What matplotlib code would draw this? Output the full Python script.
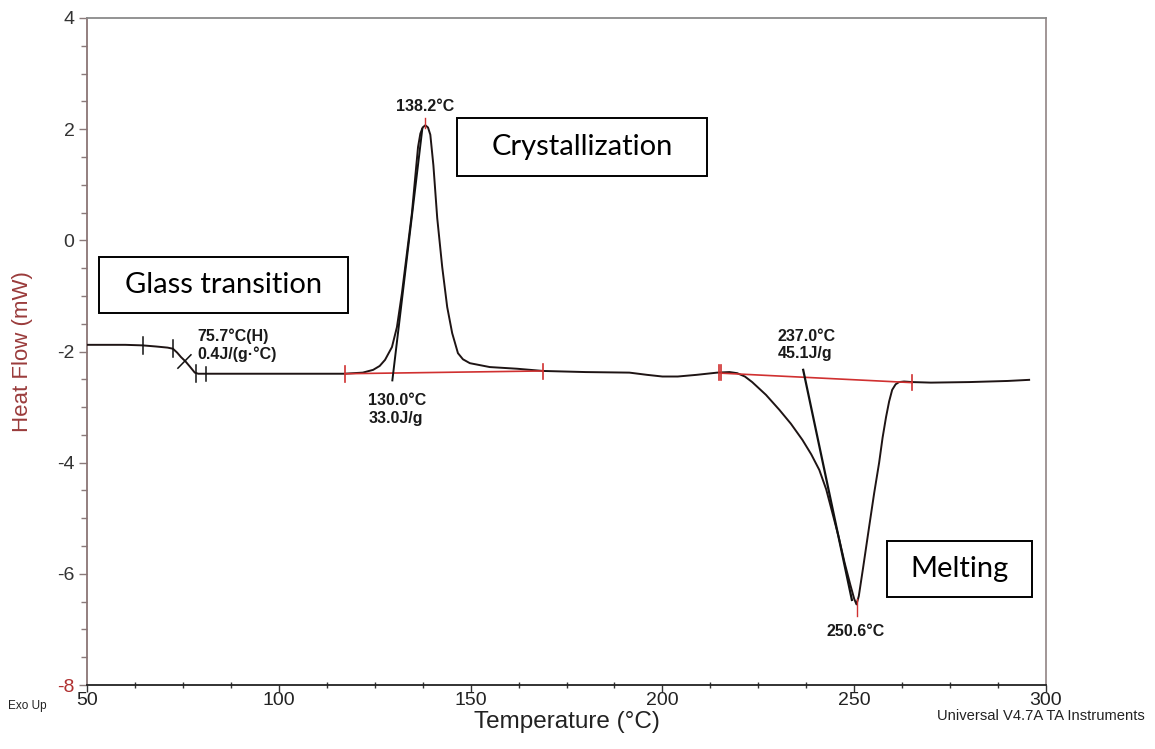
import matplotlib
matplotlib.use("Agg")
import matplotlib.pyplot as plt
from matplotlib.patches import Rectangle
from matplotlib.ticker import MultipleLocator

plt.rcParams['axes.unicode_minus'] = False

# ---------------- data ----------------
temp = [50, 55, 60, 64.5, 68, 71, 72.4, 73.5, 74.5, 75.7, 76.8, 78.1, 79, 81, 90, 100, 110, 117,
        121.9, 124.6, 126.3, 127.7, 129.5, 130.8, 132.1, 133.4, 134.7, 135.5, 136.3, 136.9, 137.5,
        138.2, 138.9, 139.5, 140.3, 141.3, 142.6, 143.9, 145.2, 146.7, 148.0, 149.8, 155, 162.1,
        168.9, 180, 191.4, 196, 200, 204, 208.9, 214.3, 217.5, 219.5, 221.5, 223.4, 227, 230.5,
        233.5, 236.5, 238.8, 240.9, 242.7, 244.3, 246, 247.5, 249, 250.0, 250.6, 251.2, 252.3,
        253.9, 255.2, 256.5, 257.4, 258.3, 259.1, 259.9, 260.8, 261.7, 263, 265.1, 270, 280, 290,
        295.6]
heat = [-1.88, -1.88, -1.88, -1.89, -1.91, -1.93, -1.95, -2.02, -2.10, -2.18, -2.27, -2.38, -2.40,
        -2.40, -2.40, -2.40, -2.40, -2.40,
        -2.38, -2.33, -2.26, -2.15, -1.92, -1.56, -0.95, -0.23, 0.49, 1.09, 1.68, 1.92, 2.03,
        2.07, 2.03, 1.90, 1.35, 0.40, -0.48, -1.20, -1.67, -2.03, -2.14, -2.21, -2.28, -2.31,
        -2.35, -2.37, -2.38, -2.42, -2.45, -2.45, -2.42, -2.38, -2.37, -2.39, -2.45, -2.55, -2.78,
        -3.05, -3.30, -3.59, -3.85, -4.13, -4.48, -4.90, -5.35, -5.80, -6.20, -6.45, -6.55, -6.40,
        -5.90, -5.15, -4.55, -4.00, -3.55, -3.18, -2.90, -2.69, -2.59, -2.55, -2.54, -2.55, -2.56,
        -2.55, -2.53, -2.51]

# analysis results
peak_labels = ["75.7°C(H)\n0.4J/(g·°C)", "138.2°C", "130.0°C\n33.0J/g", "237.0°C\n45.1J/g", "250.6°C"]
box_labels = ["Glass transition", "Crystallization", "Melting"]
x_ticks = [50, 100, 150, 200, 250, 300]
y_ticks = [-8, -6, -4, -2, 0, 2, 4]

# integration baselines (start/end temperatures and heat flow)
cryst_base_x = [117.2, 168.8]
cryst_base_y = [-2.40, -2.35]
melt_base_x = [215.4, 265.1]
melt_base_y = [-2.39, -2.56]
# onset tangents
cryst_tan_x = [129.6, 137.4]
cryst_tan_y = [-2.52, 2.00]
melt_tan_x = [236.7, 249.4]
melt_tan_y = [-2.33, -6.47]

# ---------------- figure ----------------
W, H = 1155, 749
fig = plt.figure(figsize=(W / 100, H / 100), dpi=100)
ax = fig.add_axes([87 / W, 1 - 685 / H, (1046 - 87) / W, (685 - 18) / H])

reg = ['Liberation Sans', 'DejaVu Sans']
boxfont = ['Lato', 'Open Sans', 'DejaVu Sans']

ax.plot(temp, heat, color='#1e1414', lw=1.4, zorder=3)

red = '#d03030'
ax.plot(cryst_base_x, cryst_base_y, color=red, lw=1.2, zorder=4)
ax.plot(melt_base_x, melt_base_y, color=red, lw=1.2, zorder=4)
ax.plot(cryst_tan_x, cryst_tan_y, color='#111111', lw=1.4, zorder=4)
ax.plot(melt_tan_x, melt_tan_y, color='#111111', lw=1.6, zorder=4)

# red limit markers
for (x, y) in [(117.2, -2.40), (168.8, -2.36), (214.8, -2.38), (215.4, -2.38), (265.1, -2.56)]:
    ax.plot([x, x], [y - 0.14, y + 0.14], color=red, lw=1.2, zorder=5)
ax.plot([138.2, 138.2], [2.02, 2.2], color=red, lw=1.0, zorder=5)
ax.plot([250.6, 250.6], [-6.75, -6.45], color=red, lw=1.0, zorder=5)

# glass transition markers (black)
for (x, y, d) in [(64.5, -1.89, 0.15), (72.4, -1.95, 0.15), (81.0, -2.40, 0.13)]:
    ax.plot([x, x], [y - d, y + d], color='#111111', lw=1.1, zorder=5)
ax.plot([78.3, 78.3], [-2.25, -2.55], color='#111111', lw=1.1, zorder=5)
ax.plot([73.7, 77.1], [-2.30, -2.06], color='#111111', lw=1.1, zorder=5)

# annotation texts
tkw = dict(fontsize=11.5, family=reg, weight='bold', color='#1a1a1a', linespacing=1.2, zorder=6)
ax.text(78.7, -1.88, peak_labels[0], ha='left', va='center', **tkw)
ax.text(138.1, 2.40, peak_labels[1], ha='center', va='center', **tkw)
ax.text(123.3, -3.04, peak_labels[2], ha='left', va='center', **tkw)
ax.text(230.1, -1.88, peak_labels[3], ha='left', va='center', **tkw)
ax.text(250.5, -7.04, peak_labels[4], ha='center', va='center', **tkw)

# boxed labels
boxes = [(53.1, -1.31, 118.0, -0.30), (146.5, 1.16, 211.6, 2.20), (258.6, -6.41, 296.4, -5.41)]
for (x0, y0, x1, y1), lab in zip(boxes, box_labels):
    ax.add_patch(Rectangle((x0, y0), x1 - x0, y1 - y0, fill=True, fc='white', ec='black',
                           lw=1.4, zorder=7))
    ax.text((x0 + x1) / 2, (y0 + y1) / 2, lab, ha='center', va='center', fontsize=21,
            family=boxfont, color='black', zorder=8)

# axes styling
ax.set_xlim(50, 300)
ax.set_ylim(-8, 4)
ax.set_xticks(x_ticks)
ax.set_yticks(y_ticks)
ax.xaxis.set_minor_locator(MultipleLocator(12.5))
ax.yaxis.set_minor_locator(MultipleLocator(0.5))
ax.tick_params(axis='y', which='major', direction='out', length=6, width=1, color='#8a7a7a',
               labelsize=14, labelcolor='#333333', pad=3)
ax.tick_params(axis='y', which='minor', direction='out', length=4, width=1, color='#8a7a7a')
ax.tick_params(axis='x', which='major', direction='out', length=5, width=1, color='#333333',
               labelsize=14, labelcolor='#222222', pad=0)
ax.tick_params(axis='x', which='minor', direction='inout', length=4, width=1, color='#333333')
for lab in ax.get_yticklabels() + ax.get_xticklabels():
    lab.set_family(reg)
ax.get_yticklabels()[0].set_color('#b03030')

ax.spines['left'].set_color('#8a7575')
ax.spines['right'].set_color('#9a8e8e')
ax.spines['top'].set_color('#8a8a8a')
ax.spines['bottom'].set_color('#222222')
for s in ax.spines.values():
    s.set_linewidth(1.3)

ax.set_ylabel('Heat Flow (mW)', fontsize=16, color='#9a3b3b', family=reg)
ax.yaxis.set_label_coords(-(87 - 33) / 959, 0.5)
ax.set_xlabel('Temperature (°C)', fontsize=17.5, color='#222222', family=reg)
ax.xaxis.set_label_coords(0.5, -(711 - 685) / 667)

fig.text(8 / W, 1 - 706 / H, 'Exo Up', fontsize=8.5, family=reg, color='#222222',
         ha='left', va='center')
fig.text(1145 / W, 1 - 716 / H, 'Universal V4.7A TA Instruments', fontsize=10.6, family=reg,
         color='#222222', ha='right', va='center')

fig.savefig('out.png', dpi=100, facecolor='white')
